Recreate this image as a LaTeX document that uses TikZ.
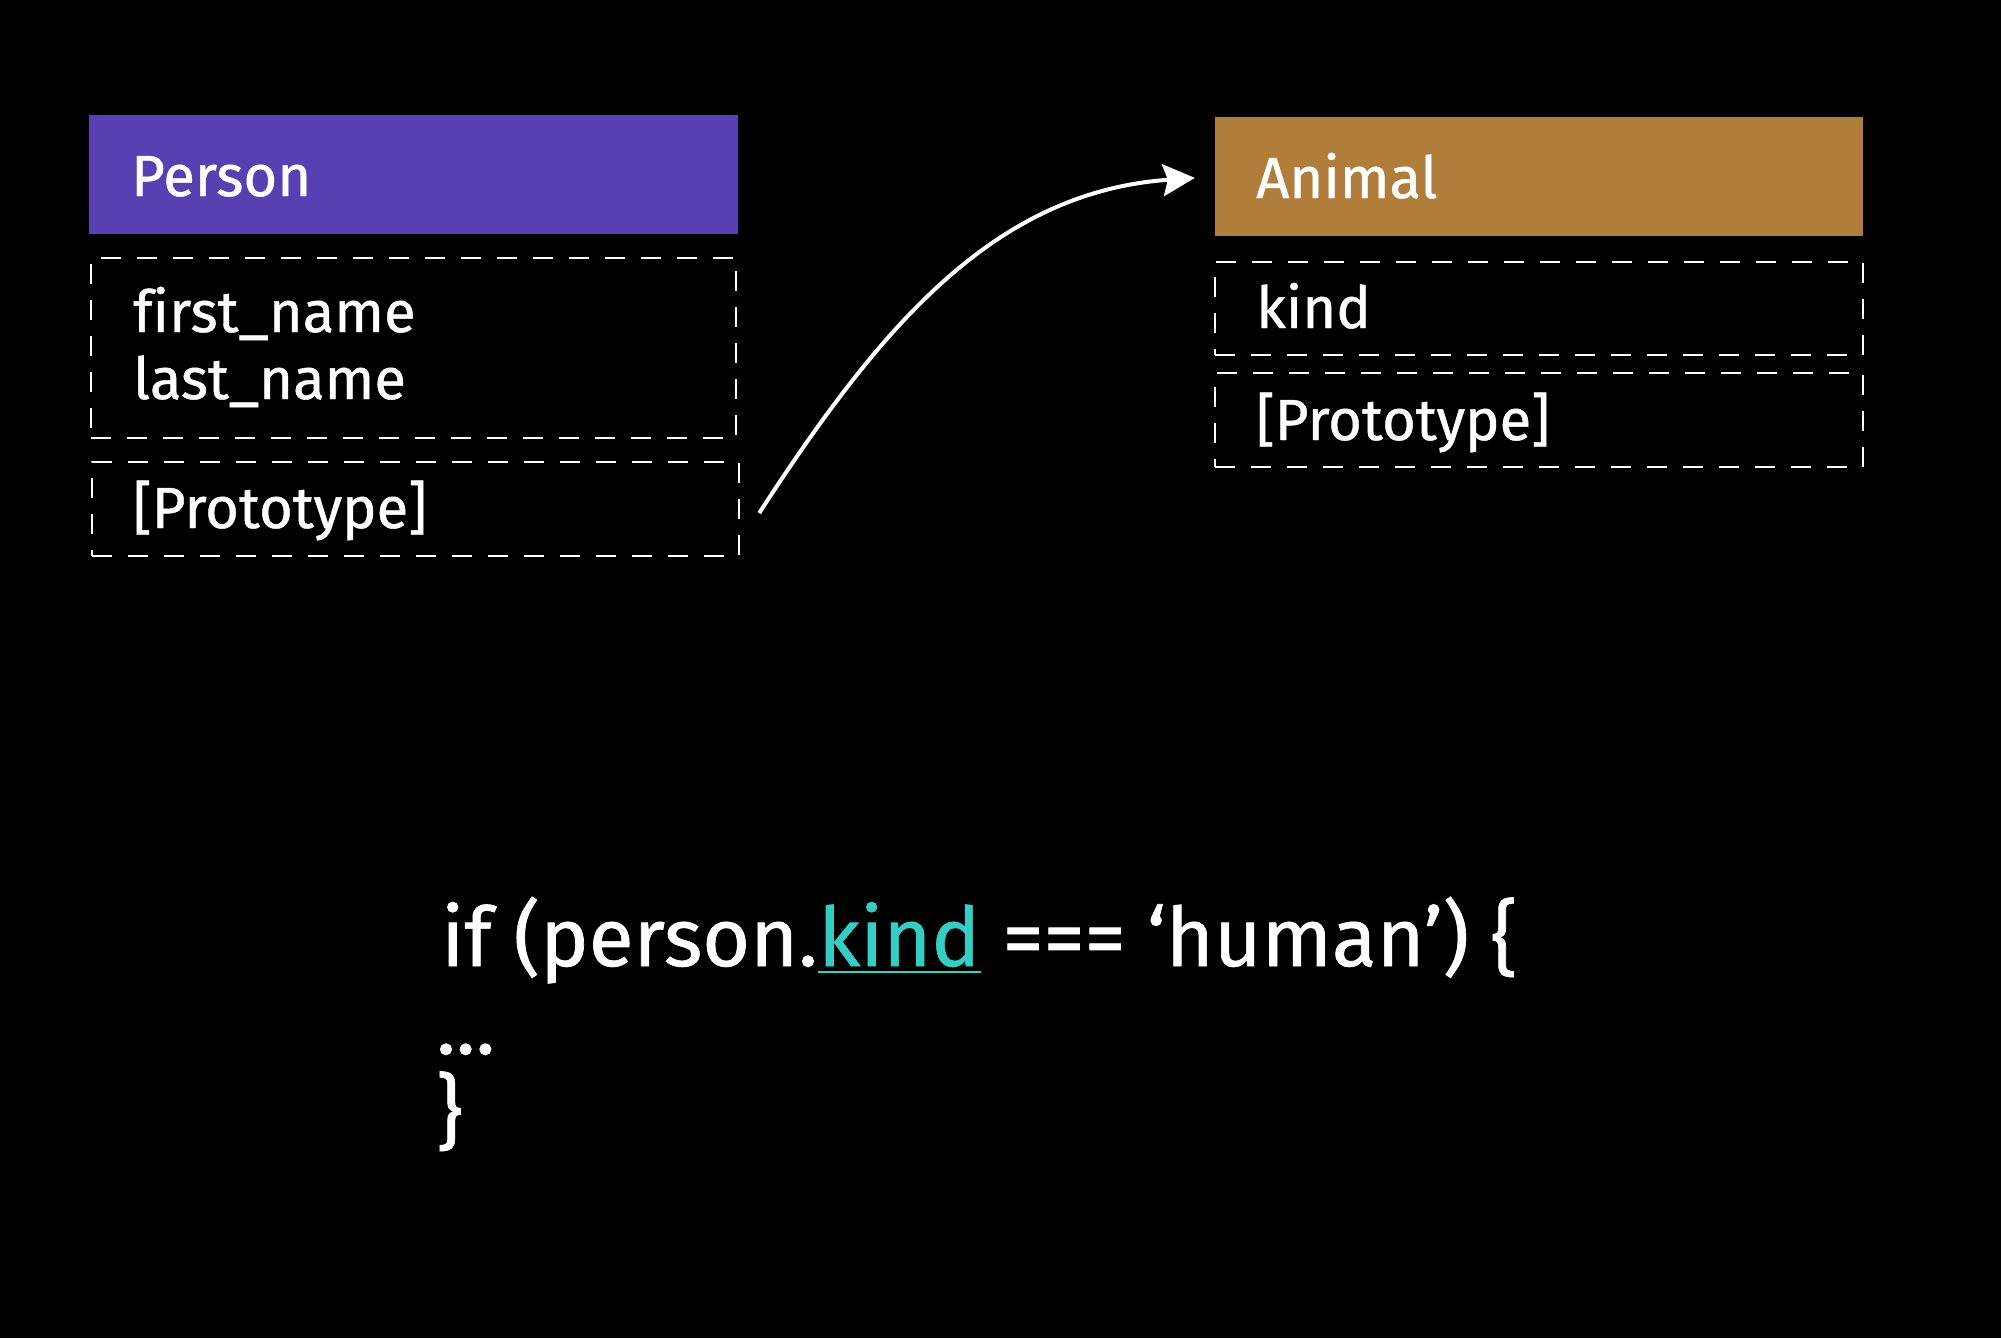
\documentclass[tikz,border=0pt]{standalone}
\usepackage{fontspec}
\setmainfont{Fira Sans}[Ligatures=NoCommon, FakeBold=0.8]
\usetikzlibrary{arrows.meta}

\definecolor{personpurple}{RGB}{89,64,178}
\definecolor{animalbrown}{RGB}{176,126,58}
\definecolor{kindcyan}{RGB}{52,206,196}

\tikzset{
  header/.style={draw=none, minimum width=649pt, minimum height=119pt, inner sep=0pt},
  slot/.style={draw=white, line width=2.4pt, dash pattern=on 20pt off 16pt, minimum width=645pt, inner sep=0pt},
  label/.style={text=white, anchor=base west, inner sep=0pt, font=\fontsize{58}{70}\selectfont},
  code/.style={text=white, anchor=base west, inner sep=0pt, font=\fontsize{82}{98}\selectfont},
  link/.style={draw=white, line width=4pt, -{Stealth[length=32pt, width=32pt, inset=5pt]}}
}

\begin{document}
\begin{tikzpicture}[x=1pt, y=-1pt]
  \fill[black] (0,0) rectangle (2001,1338);
  \useasboundingbox (0,0) rectangle (2001,1338);

  % Person object
  \node[header, fill=personpurple] (phead) at (413.5,174.5) {};
  \node[slot, minimum height=180pt] (pfields) at (413.5,348) {};
  \node[slot, minimum width=647pt, minimum height=94pt] (pproto) at (415.5,509) {};
  \node[label] (pname) at (131,196) {Person};
  \node[label] (pfirst) at (133,332) {first\_name};
  \node[label] (plast) at (133,399) {last\_name};
  \node[label] (pptxt) at (133,528) {[Prototype]};

  % Animal object
  \node[header, fill=animalbrown, minimum width=648pt] (ahead) at (1539,176.5) {};
  \node[slot, minimum width=648pt, minimum height=93pt] (akind) at (1539,308.5) {};
  \node[slot, minimum width=648pt, minimum height=94pt] (aproto) at (1539,420) {};
  \node[label] (aname) at (1256,198) {Animal};
  \node[label] (akindtxt) at (1256,328) {kind};
  \node[label] (aptxt) at (1256,440) {[Prototype]};

  % prototype link
  \draw[link, shorten >=20pt] ([shift={(19,4)}]pproto.east) to[out=57, in=184] (ahead.west);

  % code snippet
  \node[code] (c1) at (441,966) {if (person.};
  \node[code, text=kindcyan] (ckind) at (c1.base east) {kind};
  \node[code] (c2) at (ckind.base east) {\ === ‘human’) \{};
  \draw[kindcyan, line width=2.5pt] ([yshift=-6pt]ckind.base west) -- ([yshift=-6pt]ckind.base east);
  \node[code] (cdots) at (436,1054) {...};
  \node[code] (cclose) at (436,1140) {\}};
\end{tikzpicture}
\end{document}
